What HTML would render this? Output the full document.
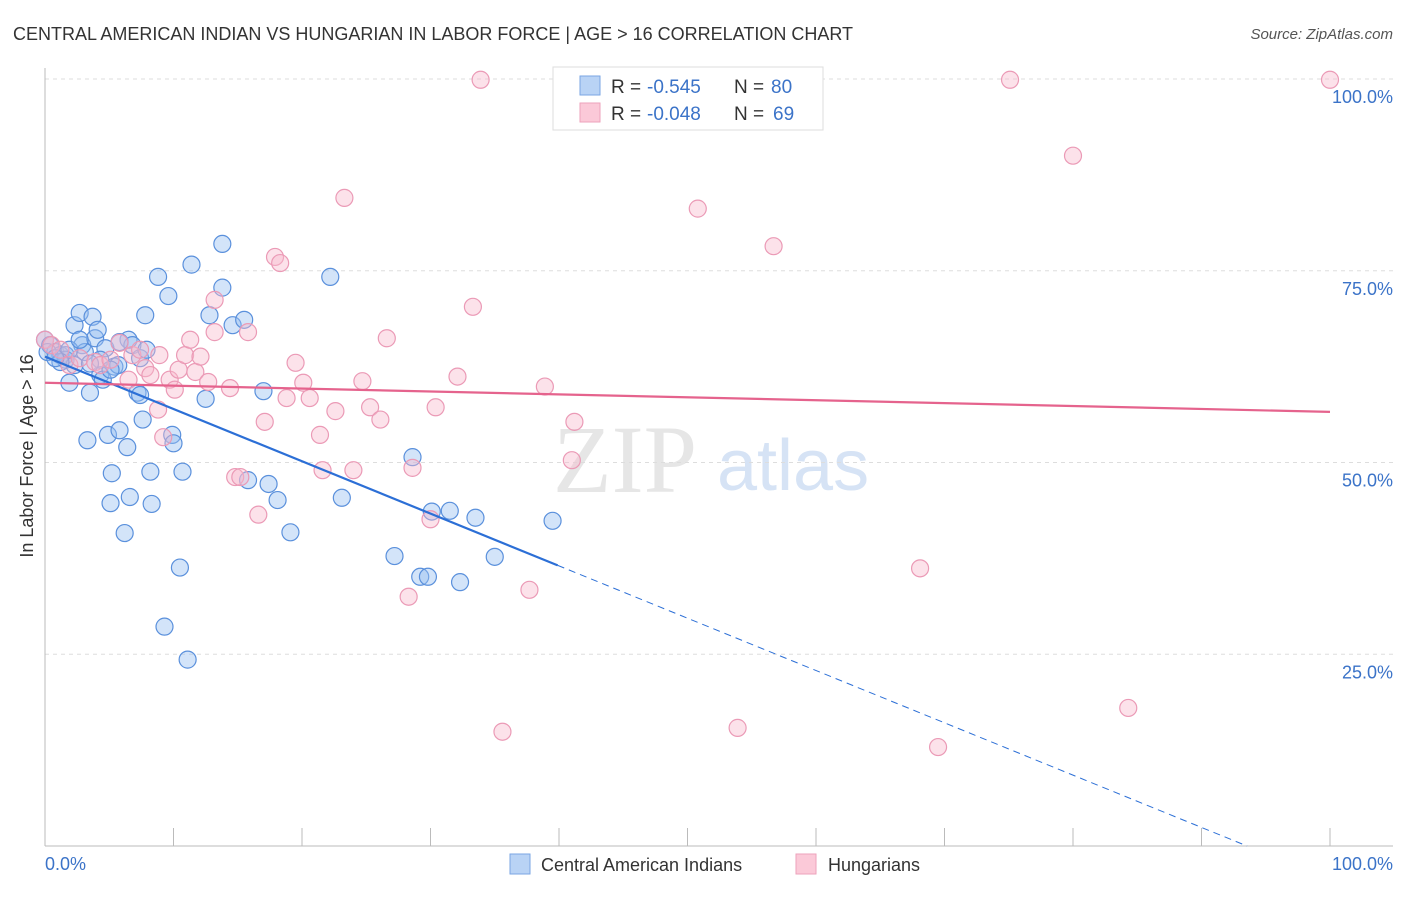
<!DOCTYPE html>
<html><head><meta charset="utf-8"><style>
body{margin:0;background:#fff;font-family:"Liberation Sans",sans-serif;}
svg text{font-family:"Liberation Sans",sans-serif;}
</style></head><body>
<svg id="chart" width="1406" height="892" xmlns="http://www.w3.org/2000/svg">
<text x="13" y="40" font-size="18" fill="#333">CENTRAL AMERICAN INDIAN VS HUNGARIAN IN LABOR FORCE | AGE &gt; 16 CORRELATION CHART</text>
<text x="1393" y="39" font-size="15" fill="#555" font-style="italic" text-anchor="end">Source: ZipAtlas.com</text>
<text x="553" y="492" font-size="96" fill="#e6e6e6" font-family="Liberation Serif" style="font-family:'Liberation Serif',serif">ZIP</text>
<text x="717" y="490" font-size="72" fill="#d6e3f5">atlas</text>
<g id="grid"></g>
<g id="axes"></g>
<g id="pts"></g>
<g id="trend"></g>
<text transform="translate(33,456) rotate(-90)" font-size="18" fill="#333" text-anchor="middle">In Labor Force | Age &gt; 16</text>
<text x="45" y="870" font-size="18" fill="#3b73c8">0.0%</text>
<text x="1393" y="870" font-size="18" fill="#3b73c8" text-anchor="end">100.0%</text>
<g>
<rect x="553" y="67" width="270" height="63" fill="#fff" stroke="#ddd"/>
<rect x="580" y="76" width="20" height="19" fill="#b9d3f5" stroke="#7aa6e3"/>
<rect x="580" y="103" width="20" height="19" fill="#fbc9d8" stroke="#eea2bb"/>
<text x="611" y="93" font-size="19" fill="#333">R =</text>
<text x="647" y="93" font-size="19" fill="#3b73c8">-0.545</text>
<text x="734" y="93" font-size="19" fill="#333">N =</text>
<text x="771" y="93" font-size="19" fill="#3b73c8">80</text>
<text x="611" y="120" font-size="19" fill="#333">R =</text>
<text x="647" y="120" font-size="19" fill="#3b73c8">-0.048</text>
<text x="734" y="120" font-size="19" fill="#333">N =</text>
<text x="773" y="120" font-size="19" fill="#3b73c8">69</text>
</g>
<g>
<rect x="510" y="854" width="20" height="20" fill="#b9d3f5" stroke="#7aa6e3"/>
<text x="541" y="871" font-size="18" fill="#333">Central American Indians</text>
<rect x="796" y="854" width="20" height="20" fill="#fbc9d8" stroke="#eea2bb"/>
<text x="828" y="871" font-size="18" fill="#333">Hungarians</text>
</g>
</svg>
<script>
const yTicks=[25,50,75,100];
const yTickLabels=["25.0%","50.0%","75.0%","100.0%"];
const xTicks=[0,10,20,30,40,50,60,70,80,90,100];
const blueX=[0,0.4,0.8,1.2,1.6,1.9,2.3,2.7,2.9,3.3,3.5,3.7,3.9,4.1,4.3,4.5,4.7,4.9,5.1,5.2,5.4,5.7,5.8,6.2,6.4,6.5,6.6,6.8,7.2,7.4,7.6,7.8,7.9,8.2,8.3,8.8,9.3,9.6,9.9,10.0,10.5,10.7,11.1,11.4,12.5,12.8,13.8,13.8,14.6,15.5,15.8,17.0,17.4,18.1,19.1,22.2,23.1,27.2,28.6,29.2,29.8,30.1,31.5,32.3,33.5,35.0,39.5,1.6,4.3,2.3,3.1,0.2,3.5,5.1,5.8,7.4,1.9,2.7,1.2,0.8];
const blueY=[66.0,65.3,64.4,64.0,64.0,60.4,67.9,69.5,65.3,52.9,59.1,69.0,66.2,67.3,61.4,60.8,64.9,53.6,44.7,48.6,62.5,62.7,54.2,40.8,52.0,66.0,45.5,65.3,59.1,63.6,55.6,69.2,64.7,48.8,44.6,74.2,28.6,71.7,53.6,52.5,36.3,48.8,24.3,75.8,58.3,69.2,78.5,72.8,67.9,68.6,47.7,59.3,47.2,45.1,40.9,74.2,45.4,37.8,50.7,35.1,35.1,43.6,43.7,34.4,42.8,37.7,42.4,63.4,63.4,62.7,64.4,64.4,62.9,62.1,65.7,58.8,64.7,66.0,63.1,63.6];
const pinkX=[0,0.5,1.2,1.9,2.7,3.9,4.3,5.1,5.8,6.5,6.8,7.4,7.8,8.2,8.8,9.2,9.7,10.4,10.9,11.3,11.7,12.1,12.7,13.2,14.4,14.8,15.2,15.8,16.6,17.1,17.9,18.3,18.8,19.5,20.1,20.6,21.4,21.6,22.6,23.3,24.0,24.7,25.3,26.1,26.6,28.3,28.6,30.0,30.4,32.1,33.3,33.9,35.6,37.7,38.9,41.0,41.2,50.8,53.9,56.7,68.1,69.5,75.1,80.0,84.3,100,8.9,10.1,13.2];
const pinkY=[66.0,65.3,64.7,62.7,63.6,63.1,62.7,63.4,65.6,60.8,64.0,64.7,62.3,61.4,56.9,53.3,60.8,62.1,64.0,66.0,61.8,63.8,60.5,71.2,59.7,48.1,48.1,67.0,43.2,55.3,76.8,76.0,58.4,63.0,60.4,58.4,53.6,49.0,56.7,84.5,49.0,60.6,57.2,55.6,66.2,32.5,49.3,42.6,57.2,61.2,70.3,99.9,14.9,33.4,59.9,50.3,55.3,83.1,15.4,78.2,36.2,12.9,99.9,90.0,18.0,99.9,64.0,59.5,67.0];
const blueTrend=[63.8,-0.682,39.9];
const pinkTrend=[60.4,56.6];
const NS="http://www.w3.org/2000/svg";
const X0=45,X1=1330,Y0=846,Y100=79;
const sx=v=>X0+(X1-X0)*v/100, sy=v=>Y0-(Y0-Y100)*v/100;
function mk(tag,attrs,parent){const e=document.createElementNS(NS,tag);for(const k in attrs)e.setAttribute(k,attrs[k]);parent.appendChild(e);return e;}
const grid=document.getElementById('grid'),axes=document.getElementById('axes'),pts=document.getElementById('pts'),trend=document.getElementById('trend');
yTicks.forEach((t,i)=>{
 const l=mk('line',{x1:X0,x2:1393,y1:sy(t),y2:sy(t),stroke:'#ddd','stroke-dasharray':'4,4'},grid);
 
 
 const tx=mk('text',{x:1393,y:sy(t)+24,'font-size':18,fill:'#3b73c8','text-anchor':'end'},grid);
 tx.textContent=yTickLabels[i];
 
 
});
const ya=mk('line',{x1:X0,x2:X0,y1:68,y2:Y0,stroke:'#bbb'},axes);


const xa=mk('line',{x1:X0,x2:1393,y1:Y0,y2:Y0,stroke:'#bbb'},axes);


xTicks.forEach(t=>{
 const l=mk('line',{x1:sx(t),x2:sx(t),y1:Y0,y2:Y0-18,stroke:'#bbb'},axes);
 
 
});
blueX.forEach((v,i)=>{
 const c=mk('circle',{cx:sx(v),cy:sy(blueY[i]),r:8.5,fill:'rgba(150,190,240,0.42)',stroke:'#5a90dc','stroke-width':1.2},pts);
 
 
});
pinkX.forEach((v,i)=>{
 const c=mk('circle',{cx:sx(v),cy:sy(pinkY[i]),r:8.5,fill:'rgba(248,185,206,0.42)',stroke:'#eb9ab6','stroke-width':1.2},pts);
 
 
});
const bf=x=>blueTrend[0]+blueTrend[1]*x;
const xEnd=-blueTrend[0]/blueTrend[1];
const b1=mk('line',{x1:sx(0),y1:sy(bf(0)),x2:sx(blueTrend[2]),y2:sy(bf(blueTrend[2])),stroke:'#2c6fd6','stroke-width':2.2},trend);


const b2=mk('line',{x1:sx(blueTrend[2]),y1:sy(bf(blueTrend[2])),x2:sx(xEnd),y2:sy(0),stroke:'#2c6fd6','stroke-width':1,'stroke-dasharray':'7,5'},trend);


const p1=mk('line',{x1:sx(0),y1:sy(pinkTrend[0]),x2:sx(100),y2:sy(pinkTrend[1]),stroke:'#e5638d','stroke-width':2.2},trend);


</script>
</body></html>
